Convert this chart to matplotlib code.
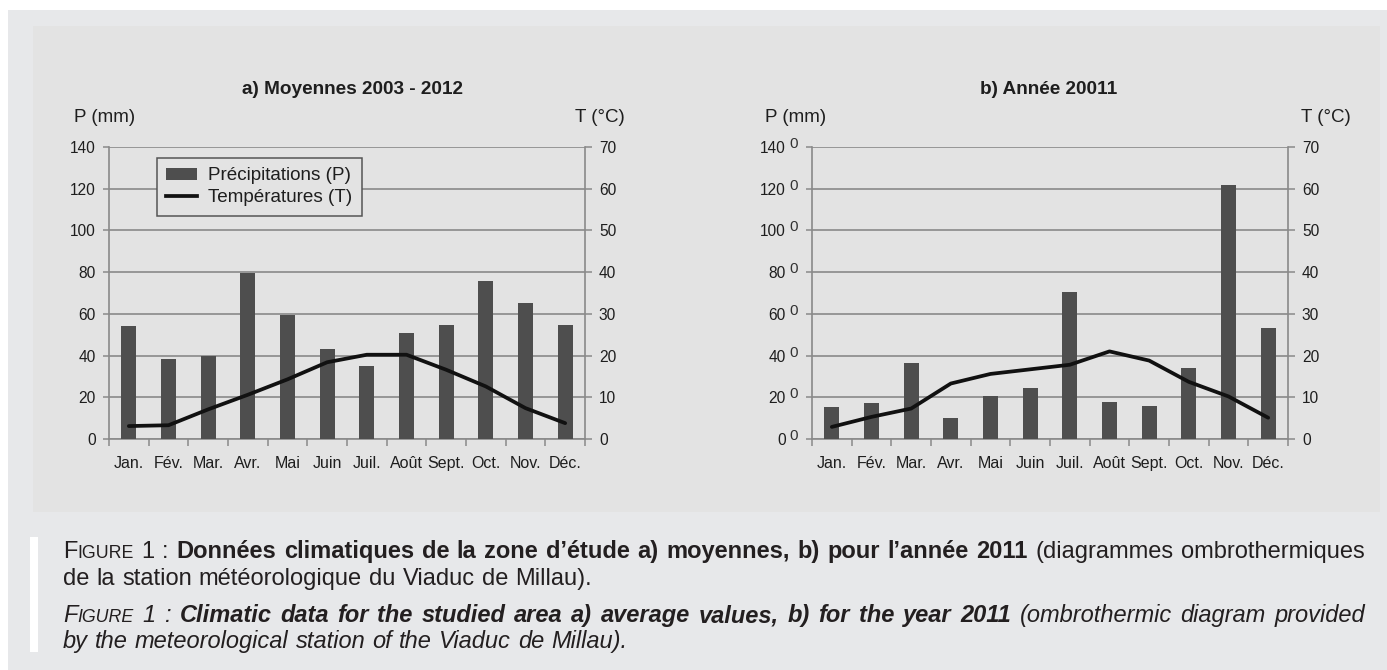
import matplotlib
matplotlib.use('Agg')
import matplotlib.pyplot as plt
from matplotlib.patches import Rectangle, Patch
from matplotlib.lines import Line2D

plt.rcParams['font.family'] = ['Liberation Sans', 'DejaVu Sans']

# ---------------- data ----------------
months = ['Jan.', 'Fév.', 'Mar.', 'Avr.', 'Mai', 'Juin', 'Juil.', 'Août',
          'Sept.', 'Oct.', 'Nov.', 'Déc.']
precip_avg = [54, 38.5, 40, 79.5, 59.5, 43, 35, 51, 54.6, 75.7, 65, 54.6]
temp_avg = [3.1, 3.3, 7.1, 10.6, 14.3, 18.4, 20.2, 20.2, 16.6, 12.6, 7.4, 3.8]
precip_2011 = [15.4, 17.3, 36.3, 10.2, 20.5, 24.4, 70.6, 17.9, 15.6, 34, 122, 53]
temp_2011 = [2.9, 5.3, 7.3, 13.3, 15.6, 16.7, 17.8, 21.0, 18.8, 13.7, 10.2, 5.1]
p_ticks = [0, 20, 40, 60, 80, 100, 120, 140]
t_ticks = [0, 10, 20, 30, 40, 50, 60, 70]
title_a = 'a) Moyennes 2003 - 2012'
title_b = 'b) Année 20011'
legend_labels = ['Précipitations (P)', 'Températures (T)']

W, H = 1387, 670
fig = plt.figure(figsize=(W / 100, H / 100), dpi=100)
fig.patch.set_facecolor('white')


def fx(x):
    return x / W


def fy(y):
    return 1 - y / H


def rect(x0, y0, x1, y1, **kw):
    fig.add_artist(Rectangle((fx(x0), fy(y1)), fx(x1) - fx(x0), fy(y0) - fy(y1),
                             transform=fig.transFigure, **kw))


rect(8, 10, 1387, 670, facecolor='#e7e8ea', edgecolor='none', zorder=0)
rect(33, 26, 1380, 512, facecolor='#e3e3e3', edgecolor='none', zorder=0)
rect(30, 537, 38, 652, facecolor='white', edgecolor='none', zorder=0)

BAR = '#4e4e4e'
GRID = '#8a8a8a'
TXT = '#1e1e1e'


def panel(x0, x1, precip, temp, title, tcx, plx, trx, extra_zero=False, legend=False):
    y0, y1 = 147, 439
    ax = fig.add_axes([fx(x0), fy(y1), fx(x1) - fx(x0), fy(y0) - fy(y1)])
    ax.set_facecolor('none')
    xs = [i + 0.5 for i in range(len(months))]
    ax.bar(xs, precip, width=0.38, color=BAR, zorder=3)
    ax.set_xlim(0, 12)
    ax.set_ylim(0, 140)
    ax.set_yticks(p_ticks)
    ax.set_yticklabels([str(v) for v in p_ticks])
    ax.yaxis.grid(True, color=GRID, lw=1.2)
    ax.set_axisbelow(True)
    ax.set_xticks(range(13))
    ax.set_xticklabels([''] * 13)
    ax.set_xticks(xs, minor=True)
    ax.set_xticklabels(months, minor=True)
    ax.tick_params(axis='x', which='major', length=5, width=1.1, color=GRID, direction='out')
    ax.tick_params(axis='x', which='minor', length=0, pad=12, labelsize=11.5, labelcolor=TXT)
    lpad = 15 if extra_zero else 5.5
    ax.tick_params(axis='y', length=4, width=1.1, color=GRID, pad=lpad, labelsize=11.2, labelcolor=TXT)
    for s in ['top', 'right']:
        ax.spines[s].set_visible(False)
    for s in ['left', 'bottom']:
        ax.spines[s].set_color(GRID)
        ax.spines[s].set_linewidth(1.2)

    ax2 = ax.twinx()
    ax2.set_ylim(0, 70)
    ax2.set_yticks(t_ticks)
    ax2.plot(xs, temp, color='#111111', lw=2.7, solid_capstyle='round', zorder=4)
    ax2.tick_params(axis='y', length=5, width=1.1, color=GRID, pad=5, labelsize=11.2, labelcolor=TXT)
    for s in ['top', 'left', 'bottom']:
        ax2.spines[s].set_visible(False)
    ax2.spines['right'].set_color(GRID)
    ax2.spines['right'].set_linewidth(1.2)

    if extra_zero:
        for v in p_ticks:
            ax.annotate('0', xy=(0, v), xycoords=ax.get_yaxis_transform(),
                        xytext=(-18.5, 3), textcoords='offset pixels',
                        ha='center', va='center', fontsize=11, color='#333333')

    if legend:
        handles = [Patch(facecolor=BAR, edgecolor='none'),
                   Line2D([0], [0], color='#111111', lw=2.7)]
        lg = ax2.legend(handles, legend_labels, loc='upper left',
                        bbox_to_anchor=((157 - x0) / (x1 - x0), (y1 - 158) / (y1 - y0)),
                        borderaxespad=0, fontsize=13.6, frameon=True, fancybox=False,
                        edgecolor='#555555', facecolor='#e3e3e3', framealpha=1,
                        handlelength=1.6, handleheight=0.65, handletextpad=0.6,
                        labelspacing=0.25, borderpad=0.5)
        lg.get_frame().set_linewidth(1.1)
        for t in lg.get_texts():
            t.set_color(TXT)

    fig.text(fx(tcx), fy(90), title, ha='center', va='center', fontsize=13.7,
             fontweight='bold', color=TXT)
    fig.text(fx(plx), fy(118), 'P (mm)', ha='left', va='center', fontsize=13.5, color=TXT)
    fig.text(fx(trx), fy(118), 'T (°C)', ha='right', va='center', fontsize=13.5, color=TXT)
    return ax


panel(109, 585, precip_avg, temp_avg, title_a, 352, 74, 625, legend=True)
panel(812, 1288, precip_2011, temp_2011, title_b, 1049, 765, 1351, extra_zero=True)

# ---------------- caption ----------------
renderer = fig.canvas.get_renderer()
CAP = '#231f20'
FS = 17
SC = 12.8
X0, X1 = 63, 1365


def words_of(runs):
    words = [[]]
    for text, props in runs:
        parts = text.split(' ')
        for k, p in enumerate(parts):
            if k > 0:
                words.append([])
            if p:
                words[-1].append((p, props))
    return [w for w in words if w]


def run_width(text, props):
    t = fig.text(0, 0, text, **props)
    bb = t.get_window_extent(renderer)
    t.remove()
    return bb.width


def draw_line(runs, baseline, justify):
    words = words_of(runs)
    widths = [sum(run_width(t, p) for t, p in w) for w in words]
    if justify:
        gap = (X1 - X0 - sum(widths)) / (len(words) - 1)
    else:
        gap = 0.3 * FS * 100 / 72
    x = X0
    for w, ww in zip(words, widths):
        xx = x
        for t, p in w:
            fig.text(fx(xx), fy(baseline), t, ha='left', va='baseline', color=CAP, **p)
            xx += run_width(t, p)
        x += ww + gap


n = dict(fontsize=FS)
sc = dict(fontsize=SC)
b = dict(fontsize=FS, fontweight='bold')
i = dict(fontsize=FS, fontstyle='italic')
isc = dict(fontsize=SC, fontstyle='italic')
ib = dict(fontsize=FS, fontstyle='italic', fontweight='bold')

draw_line([('F', n), ('IGURE', sc), (' 1 : ', n),
           ('Données climatiques de la zone d’étude a) moyennes, b) pour l’année 2011', b),
           (' (diagrammes ombrothermiques', n)], 558, True)
draw_line([('de la station météorologique du Viaduc de Millau).', n)], 585, False)
draw_line([('F', i), ('IGURE', isc), (' 1 : ', i),
           ('Climatic data for the studied area a) average values, b) for the year 2011', ib),
           (' (ombrothermic diagram provided', i)], 622, True)
draw_line([('by the meteorological station of the Viaduc de Millau).', i)], 648, False)

fig.savefig('out.png', dpi=100, facecolor=fig.get_facecolor())
